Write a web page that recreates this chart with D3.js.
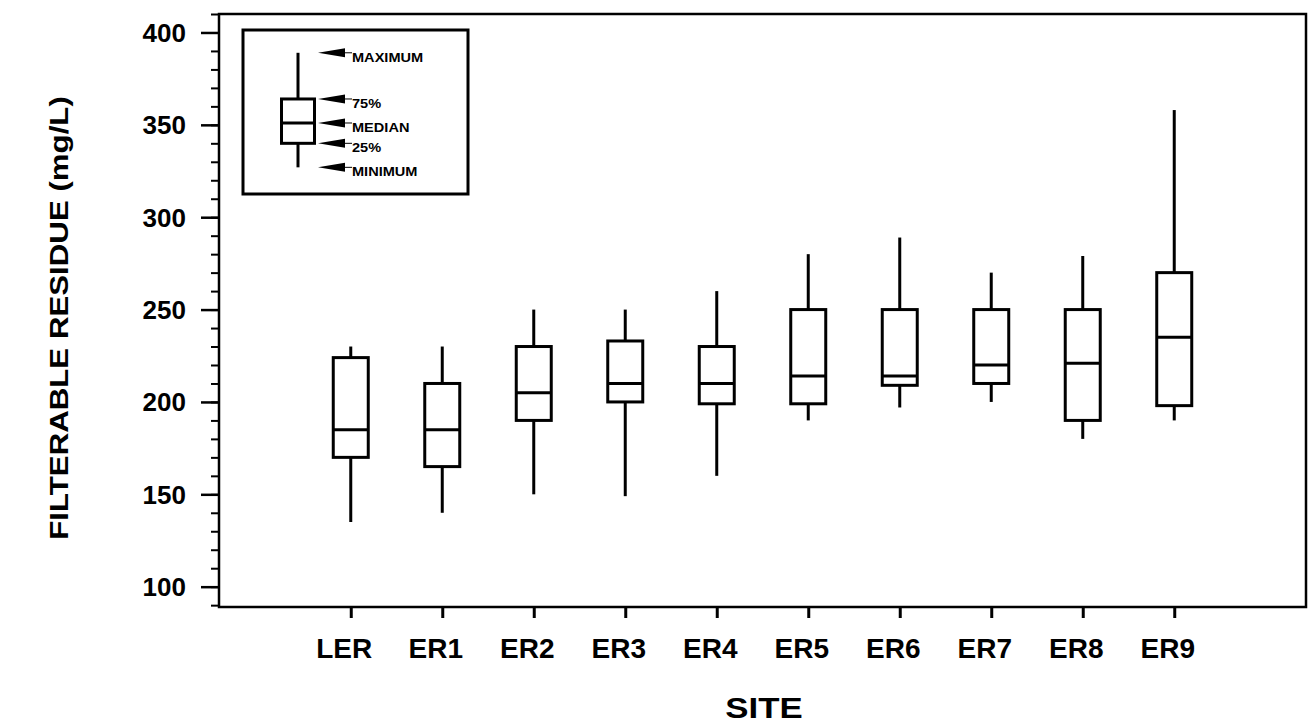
<!DOCTYPE html>
<html>
<head>
<meta charset="utf-8">
<script src="https://cdn.jsdelivr.net/npm/d3@7"></script>
<style>
  body { margin: 0; background: #fff; }
  svg text { font-family: "Liberation Sans", Arial, sans-serif; fill: #000; }
</style>
</head>
<body>
<svg id="chart"></svg>
<script>
// sites et statistiques par site (mg/L)
var sites = ["LER", "ER1", "ER2", "ER3", "ER4", "ER5", "ER6", "ER7", "ER8", "ER9"]
var minimum = [135, 140, 150, 149, 160, 190, 197, 200, 180, 190]
var q1      = [170, 165, 190, 200, 199, 199, 209, 210, 190, 198]
var median  = [185, 185, 205, 210, 210, 214, 214, 220, 221, 235]
var q3      = [224, 210, 230, 233, 230, 250, 250, 250, 250, 270]
var maximum = [230, 230, 250, 250, 260, 280, 289, 270, 279, 358]

var yTicks = [100, 150, 200, 250, 300, 350, 400]
var yMinorTicks = d3.range(90, 411, 10)

// légende : exemple de boîte
var legendLabels = ["MAXIMUM", "75%", "MEDIAN", "25%", "MINIMUM"]
var legendStats = [389, 364, 351, 340, 327]

var W = 1309, H = 724
// attention : "top" est réservé par window
var plotLeft = 219, plotRight = 1306, plotTop = 14, plotBottom = 607

var svg = d3.select("#chart").attr("width", W).attr("height", H)

var y = d3.scaleLinear().domain([89, 410]).range([plotBottom, plotTop])
var x = d3.scalePoint().domain(sites).range([plotLeft, plotRight]).padding(1.44)

// axe y : graduations principales et secondaires
var yMinor = svg.append("g")
  .attr("transform", "translate(" + plotLeft + ",0)")
  .call(d3.axisLeft(y).tickValues(yMinorTicks).tickSize(8).tickFormat(""))
yMinor.select(".domain").remove()
yMinor.selectAll("line").attr("stroke", "#000").attr("stroke-width", 2)

var yAxis = svg.append("g")
  .attr("transform", "translate(" + plotLeft + ",0)")
  .call(d3.axisLeft(y).tickValues(yTicks).tickSize(18).tickPadding(15))
yAxis.select(".domain").remove()
yAxis.selectAll("line").attr("stroke", "#000").attr("stroke-width", 2.5)
yAxis.selectAll("text")
  .style("font-size", "26px")
  .style("font-weight", "bold")
  .attr("dy", "0.34em")

// axe x
var xAxis = svg.append("g")
  .attr("transform", "translate(0," + plotBottom + ")")
  .call(d3.axisBottom(x).tickSize(11).tickPadding(20))
xAxis.select(".domain").remove()
xAxis.selectAll("line").attr("stroke", "#000").attr("stroke-width", 3)
xAxis.selectAll("text")
  .style("font-size", "28px")
  .style("font-weight", "bold")
  .attr("dx", -7)

// cadre
svg.append("rect")
  .attr("x", plotLeft).attr("y", plotTop)
  .attr("width", plotRight - plotLeft).attr("height", plotBottom - plotTop)
  .attr("fill", "none").attr("stroke", "#000").attr("stroke-width", 2.5)

// boîtes à moustaches
var boxW = 35
var boxes = svg.append("g").selectAll("g")
  .data(sites)
  .enter().append("g")

boxes.append("line")
  .attr("x1", function(d){ return x(d) }).attr("x2", function(d){ return x(d) })
  .attr("y1", function(d, i){ return y(maximum[i]) })
  .attr("y2", function(d, i){ return y(q3[i]) })
  .attr("stroke", "#000").attr("stroke-width", 3)

boxes.append("line")
  .attr("x1", function(d){ return x(d) }).attr("x2", function(d){ return x(d) })
  .attr("y1", function(d, i){ return y(q1[i]) })
  .attr("y2", function(d, i){ return y(minimum[i]) })
  .attr("stroke", "#000").attr("stroke-width", 3)

boxes.append("rect")
  .attr("x", function(d){ return x(d) - boxW / 2 })
  .attr("width", boxW)
  .attr("y", function(d, i){ return y(q3[i]) })
  .attr("height", function(d, i){ return y(q1[i]) - y(q3[i]) })
  .attr("fill", "none").attr("stroke", "#000").attr("stroke-width", 3)

boxes.append("line")
  .attr("x1", function(d){ return x(d) - boxW / 2 })
  .attr("x2", function(d){ return x(d) + boxW / 2 })
  .attr("y1", function(d, i){ return y(median[i]) })
  .attr("y2", function(d, i){ return y(median[i]) })
  .attr("stroke", "#000").attr("stroke-width", 3)

// légende
svg.append("rect")
  .attr("x", 243).attr("y", 30).attr("width", 225).attr("height", 164)
  .attr("fill", "none").attr("stroke", "#000").attr("stroke-width", 3)

var lx = 298, lw = 33
var leg = svg.append("g")
leg.append("line")
  .attr("x1", lx).attr("x2", lx)
  .attr("y1", y(legendStats[0])).attr("y2", y(legendStats[1]))
  .attr("stroke", "#000").attr("stroke-width", 3)
leg.append("line")
  .attr("x1", lx).attr("x2", lx)
  .attr("y1", y(legendStats[3])).attr("y2", y(legendStats[4]))
  .attr("stroke", "#000").attr("stroke-width", 3)
leg.append("rect")
  .attr("x", lx - lw / 2).attr("width", lw)
  .attr("y", y(legendStats[1]))
  .attr("height", y(legendStats[3]) - y(legendStats[1]))
  .attr("fill", "none").attr("stroke", "#000").attr("stroke-width", 3)
leg.append("line")
  .attr("x1", lx - lw / 2).attr("x2", lx + lw / 2)
  .attr("y1", y(legendStats[2])).attr("y2", y(legendStats[2]))
  .attr("stroke", "#000").attr("stroke-width", 3)

// flèches + libellés
var arrows = leg.selectAll("g.arrow")
  .data(legendLabels)
  .enter().append("g")
  .attr("class", "arrow")
  .attr("transform", function(d, i){ return "translate(0," + y(legendStats[i]) + ")" })

arrows.append("path")
  .attr("d", "M 318 0 L 345 -4.5 L 345 4.5 Z")
  .attr("fill", "#000")
arrows.append("line")
  .attr("x1", 345).attr("x2", 352).attr("y1", 0).attr("y2", 0)
  .attr("stroke", "#000").attr("stroke-width", 1)
arrows.append("text")
  .text(function(d){ return d })
  .attr("transform", "translate(352,9) scale(1.12,1)")
  .style("font-size", "13px")
  .style("font-weight", "bold")

// titres des axes
svg.append("text")
  .text("SITE")
  .attr("transform", "translate(764,718) scale(1.2,1)")
  .attr("text-anchor", "middle")
  .style("font-size", "29px")
  .style("font-weight", "bold")

svg.append("text")
  .text("FILTERABLE RESIDUE (mg/L)")
  .attr("transform", "translate(68,318) rotate(-90) scale(1.25,1)")
  .attr("text-anchor", "middle")
  .style("font-size", "25px")
  .style("font-weight", "bold")
</script>
</body>
</html>
